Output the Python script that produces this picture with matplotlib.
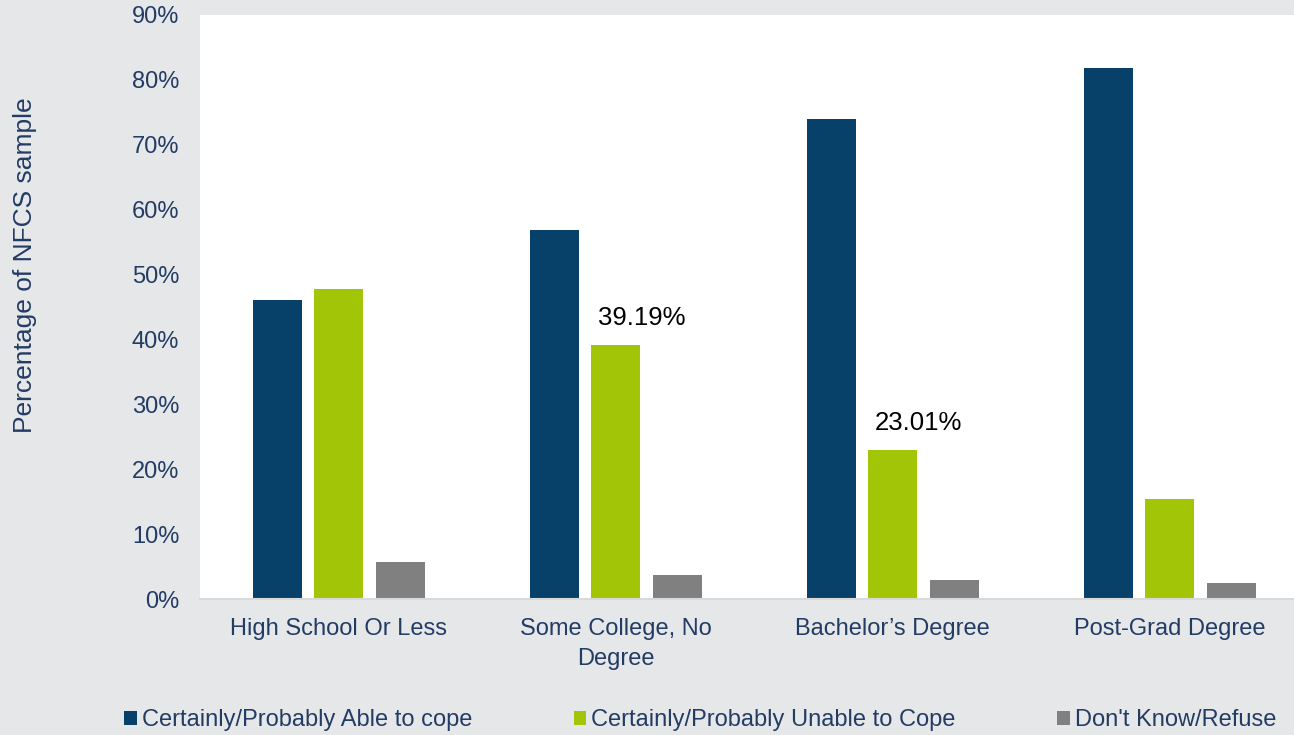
import numpy as np
import matplotlib.pyplot as plt

plt.rcParams['font.family'] = ['Liberation Sans', 'DejaVu Sans']

# data
categories = ['High School Or Less', 'Some College, No\nDegree',
              "Bachelor\u2019s Degree", 'Post-Grad Degree']
able = [46.1, 56.9, 74.0, 81.8]
unable = [47.8, 39.19, 23.01, 15.4]
dont_know = [5.7, 3.7, 2.9, 2.5]
series_names = ['Certainly/Probably Able to cope',
                'Certainly/Probably Unable to Cope',
                "Don't Know/Refuse"]
labelled = {1: '39.19%', 2: '23.01%'}

navy = '#07416a'
green = '#a2c607'
grey = '#808080'
bg = '#e6e7e9'
text_col = '#233c64'

fig = plt.figure(figsize=(12.94, 7.35), dpi=100, facecolor=bg)
ax = fig.add_axes([0.1546, 0.185, 0.8454, 0.7946])
ax.set_facecolor('white')

x = np.arange(len(categories))
step = 0.222
w = 0.177
b1 = ax.bar(x - step, able, w, color=navy, label=series_names[0])
b2 = ax.bar(x, unable, w, color=green, label=series_names[1])
b3 = ax.bar(x + step, dont_know, w, color=grey, label=series_names[2])

for i, txt in labelled.items():
    ax.text(x[i] + 0.095, unable[i] + 2.3, txt, ha='center', va='bottom',
            fontsize=18.5, color='black')

ax.set_xlim(-0.5, 3.449)
ax.set_ylim(0, 90)
ax.set_yticks(np.arange(0, 91, 10))
ax.set_yticklabels([f'{v}%' for v in range(0, 91, 10)])
ax.set_xticks(x)
ax.set_xticklabels(categories, linespacing=1.45)
ax.tick_params(axis='both', length=0, labelsize=17, colors=text_col)
ax.tick_params(axis='y', pad=15)
ax.tick_params(axis='x', pad=14)
for s in ['top', 'right', 'left']:
    ax.spines[s].set_visible(False)
ax.spines['bottom'].set_color('#d9d9d9')
ax.spines['bottom'].set_linewidth(1.5)

fig.text(0.019, 0.639, 'Percentage of NFCS sample', rotation=90,
         ha='center', va='center', fontsize=19, color=text_col)

leg = fig.legend(handles=[b1, b2, b3], loc='center', ncol=3,
                 bbox_to_anchor=(0.541, 0.02), frameon=False, fontsize=17,
                 handlelength=0.55, handleheight=0.55, handletextpad=0.2,
                 columnspacing=4.3)
for t in leg.get_texts():
    t.set_color(text_col)

plt.savefig('out.png', dpi=100, facecolor=bg)
